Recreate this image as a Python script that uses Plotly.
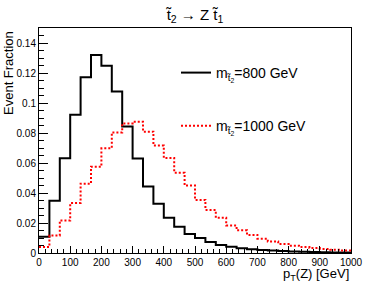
import numpy as np
import plotly.graph_objects as go

# ---- data ----
x_min, x_max, n_bins = 0, 1000, 30
frac_800 = [0.0109, 0.0349, 0.0631, 0.0922, 0.1171, 0.1320, 0.1249, 0.1076, 0.0844, 0.0630,
            0.0444, 0.0329, 0.0235, 0.0175, 0.0127, 0.0100, 0.0073, 0.0053, 0.0042, 0.0031,
            0.0025, 0.0020, 0.0016, 0.0013, 0.0010, 0.0008, 0.0006, 0.0005, 0.0004, 0.0003]
frac_1000 = [0.0040, 0.0117, 0.0217, 0.0333, 0.0462, 0.0575, 0.0698, 0.0804, 0.0864, 0.0875,
             0.0809, 0.0716, 0.0633, 0.0535, 0.0450, 0.0354, 0.0287, 0.0235, 0.0184, 0.0151,
             0.0120, 0.0095, 0.0077, 0.0060, 0.0049, 0.0040, 0.0033, 0.0027, 0.0022, 0.0017]
y_ticks = [0, 0.02, 0.04, 0.06, 0.08, 0.10, 0.12, 0.14]
y_tick_labels = ["0", "0.02", "0.04", "0.06", "0.08", "0.1", "0.12", "0.14"]
x_ticks = [0, 100, 200, 300, 400, 500, 600, 700, 800, 900, 1000]
x_tick_labels = [str(v) for v in x_ticks]
name_800 = "m<sub>t\u0303<sub>2</sub></sub>=800 GeV"
name_1000 = "m<sub>t\u0303<sub>2</sub></sub>=1000 GeV"
title_text = "t\u0303<sub>2</sub> \u2192 Z t\u0303<sub>1</sub>"

edges = np.linspace(x_min, x_max, n_bins + 1)

def step_y(vals):
    return list(vals) + [vals[-1]]

FONT = "Liberation Sans, Arial, sans-serif"
W, H = 390, 282
L, R, T, B = 39, 39, 28, 29
PW, PH = W - L - R, H - T - B

fig = go.Figure()
fig.add_trace(go.Scatter(x=edges, y=step_y(frac_800), mode="lines", line_shape="hv",
                         line=dict(color="black", width=2), name=name_800,
                         legendgroup="a"))
fig.add_trace(go.Scatter(x=edges, y=step_y(frac_1000), mode="lines", line_shape="hv",
                         line=dict(color="#ff0000", width=2, dash="2px,2px"), name=name_1000,
                         legendgroup="b"))

fig.update_layout(
    width=W, height=H,
    margin=dict(l=L, r=R, t=T, b=B),
    paper_bgcolor="white", plot_bgcolor="white",
    font=dict(family=FONT, color="black", size=10),
    title=dict(text=title_text, x=0.5, xanchor="center", y=1 - 15 / H, yanchor="middle",
               yref="container", font=dict(size=15, family=FONT)),
    showlegend=True,
    legend=dict(x=(176 - L) / PW, y=(H - B - 57) / PH, xanchor="left", yanchor="top",
                bgcolor="rgba(0,0,0,0)", font=dict(size=14, family=FONT),
                tracegroupgap=32, itemwidth=30),
)
fig.update_xaxes(range=[x_min, x_max], showline=True, linecolor="black", linewidth=1,
                 mirror=True, showgrid=False, zeroline=False,
                 ticks="inside", ticklen=7, tickcolor="black",
                 tickvals=x_ticks, ticktext=x_tick_labels, tickfont=dict(size=10),
                 minor=dict(ticks="inside", ticklen=4, dtick=20, tickcolor="black", showgrid=False))
fig.update_yaxes(range=[0, 0.150], showline=True, linecolor="black", linewidth=1,
                 mirror=True, showgrid=False, zeroline=False,
                 ticks="inside", ticklen=9, tickcolor="black",
                 tickvals=y_ticks, ticktext=y_tick_labels, tickfont=dict(size=10),
                 minor=dict(ticks="inside", ticklen=5, dtick=0.005, tickcolor="black", showgrid=False))

fig.add_annotation(text="p<sub>T</sub>(Z) [GeV]", xref="paper", yref="paper",
                   x=1, y=-(274 - (H - B)) / PH, xanchor="right", yanchor="middle",
                   showarrow=False, font=dict(size=13, family=FONT))
fig.add_annotation(text="Event Fraction", xref="paper", yref="paper",
                   x=-(L - 8) / PW, y=1 + (T - 29) / PH, xanchor="center", yanchor="top",
                   textangle=-90, showarrow=False, font=dict(size=13, family=FONT))

fig.write_html("out.html", config={"displayModeBar": False},
               post_script="document.body.style.margin='0';")
